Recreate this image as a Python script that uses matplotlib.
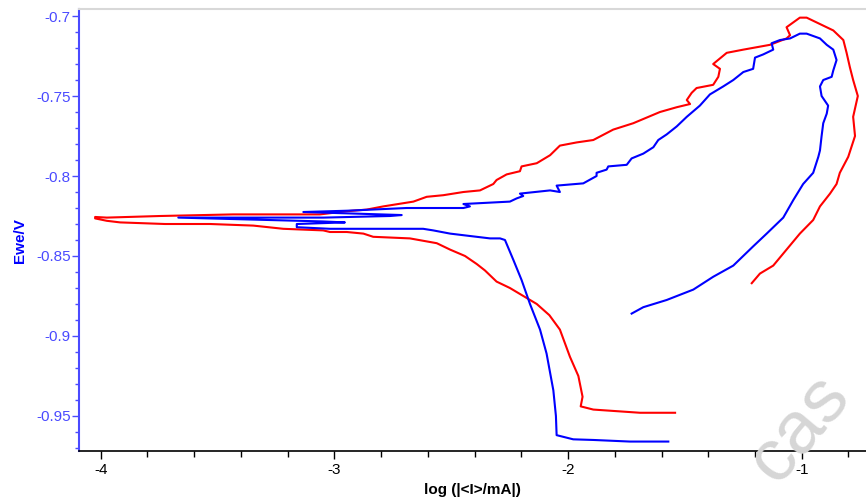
import matplotlib
matplotlib.use('Agg')
import matplotlib.pyplot as plt
from matplotlib.ticker import MultipleLocator, FuncFormatter

plt.rcParams['font.family'] = ['Liberation Sans', 'DejaVu Sans']
plt.rcParams['axes.unicode_minus'] = False

# red curve: log(|I|/mA) and Ewe/V
red_logi = [-1.542, -1.692, -1.792, -1.892, -1.946, -1.938, -1.956, -1.992, -2.035, -2.080,
            -2.134, -2.180, -2.249, -2.306, -2.356, -2.391, -2.441, -2.505, -2.562, -2.677,
            -2.834, -2.876, -2.947, -3.019, -3.048, -3.219, -3.283, -3.347, -3.532, -3.725,
            -3.917, -3.974, -4.024, -4.024, -3.974, -3.746, -3.433, -3.133, -3.062, -2.947,
            -2.862, -2.791, -2.662, -2.605, -2.534, -2.448, -2.377, -2.320, -2.306, -2.263,
            -2.206, -2.199, -2.134, -2.077, -2.035, -1.963, -1.892, -1.807, -1.721, -1.607,
            -1.535, -1.478, -1.492, -1.471, -1.450, -1.379, -1.357, -1.350, -1.379, -1.321,
            -1.250, -1.136, -1.065, -1.050, -1.065, -1.008, -0.979, -0.922, -0.865, -0.822,
            -0.808, -0.794, -0.780, -0.760, -0.780, -0.772, -0.801, -0.837, -0.851, -0.879,
            -0.922, -0.951, -1.008, -1.065, -1.122, -1.179, -1.214]
red_e = [-0.948, -0.948, -0.947, -0.946, -0.944, -0.938, -0.925, -0.913, -0.896, -0.887,
         -0.880, -0.876, -0.870, -0.866, -0.859, -0.855, -0.850, -0.846, -0.842, -0.839,
         -0.838, -0.836, -0.835, -0.835, -0.834, -0.833, -0.832, -0.831, -0.830, -0.830,
         -0.829, -0.828, -0.8265, -0.8256, -0.826, -0.825, -0.824, -0.824, -0.824, -0.822,
         -0.821, -0.819, -0.816, -0.813, -0.812, -0.810, -0.809, -0.805, -0.8025, -0.799,
         -0.797, -0.794, -0.792, -0.787, -0.781, -0.779, -0.7775, -0.771, -0.767, -0.760,
         -0.757, -0.755, -0.7525, -0.748, -0.745, -0.743, -0.738, -0.733, -0.730, -0.723,
         -0.721, -0.718, -0.714, -0.712, -0.707, -0.701, -0.701, -0.705, -0.709, -0.715,
         -0.723, -0.732, -0.740, -0.750, -0.763, -0.775, -0.788, -0.798, -0.805, -0.811,
         -0.819, -0.8275, -0.836, -0.846, -0.856, -0.861, -0.867]

# blue curve
blue_logi = [-1.571, -1.735, -1.892, -1.978, -2.049, -2.052, -2.063, -2.092, -2.120, -2.163,
             -2.199, -2.234, -2.270, -2.291, -2.334, -2.420, -2.505, -2.577, -2.620, -3.019,
             -3.161, -3.161, -2.955, -3.049, -3.668, -3.047, -2.762, -2.712, -3.133, -2.947,
             -2.691, -2.448, -2.420, -2.448, -2.249, -2.220, -2.192, -2.206, -2.077, -2.035,
             -2.049, -1.935, -1.878, -1.878, -1.835, -1.828, -1.749, -1.728, -1.678, -1.635,
             -1.614, -1.578, -1.535, -1.492, -1.436, -1.393, -1.336, -1.293, -1.250, -1.208,
             -1.200, -1.165, -1.122, -1.129, -1.093, -1.050, -1.008, -0.979, -0.922, -0.893,
             -0.865, -0.851, -0.865, -0.872, -0.908, -0.922, -0.915, -0.887, -0.893, -0.908,
             -0.915, -0.922, -0.929, -0.951, -0.994, -1.036, -1.079, -1.150, -1.208, -1.293,
             -1.379, -1.464, -1.578, -1.678, -1.728]
blue_e = [-0.966, -0.966, -0.965, -0.9646, -0.962, -0.950, -0.934, -0.911, -0.896, -0.880,
          -0.865, -0.8525, -0.840, -0.839, -0.839, -0.8375, -0.836, -0.834, -0.833, -0.833,
          -0.832, -0.830, -0.829, -0.8284, -0.826, -0.826, -0.825, -0.8244, -0.8225, -0.8217,
          -0.820, -0.820, -0.819, -0.8175, -0.816, -0.814, -0.8125, -0.811, -0.809, -0.810,
          -0.806, -0.8046, -0.800, -0.798, -0.796, -0.794, -0.793, -0.789, -0.786, -0.782,
          -0.7775, -0.774, -0.769, -0.763, -0.756, -0.749, -0.744, -0.740, -0.735, -0.733,
          -0.726, -0.724, -0.721, -0.717, -0.715, -0.714, -0.711, -0.711, -0.714, -0.718,
          -0.721, -0.7275, -0.734, -0.738, -0.740, -0.744, -0.750, -0.756, -0.761, -0.767,
          -0.775, -0.784, -0.788, -0.798, -0.805, -0.815, -0.826, -0.836, -0.844, -0.856,
          -0.863, -0.871, -0.8775, -0.882, -0.886]

axis_blue = '#4a4aff'

fig = plt.figure(figsize=(8.66, 5.0), dpi=100)
ax = fig.add_axes([79 / 866, 1 - 451 / 500, 1 - 79 / 866, (451 - 9) / 500])

ax.plot(red_logi, red_e, color='#ff0000', lw=1.5)
ax.plot(blue_logi, blue_e, color='#0000ff', lw=1.5)

ax.set_xlim(-4.093, -0.725)
ax.set_ylim(-0.9719, -0.6956)

ax.xaxis.set_major_locator(MultipleLocator(1))
ax.xaxis.set_minor_locator(MultipleLocator(0.2))
ax.yaxis.set_major_locator(MultipleLocator(0.05))
ax.yaxis.set_minor_locator(MultipleLocator(0.01))
fmt = FuncFormatter(lambda v, p: '%g' % round(v, 3))
ax.xaxis.set_major_formatter(fmt)
ax.yaxis.set_major_formatter(fmt)

ax.tick_params(axis='x', which='major', length=6, width=1, colors='black', labelsize=11, pad=3)
ax.tick_params(axis='x', which='minor', length=4, width=1, colors='black')
ax.tick_params(axis='y', which='major', length=5, width=1, colors=axis_blue, labelsize=11, pad=1)
ax.tick_params(axis='y', which='minor', length=3, width=1, colors=axis_blue)

ax.spines['left'].set_color(axis_blue)
ax.spines['left'].set_linewidth(1.5)
ax.spines['bottom'].set_color('black')
ax.spines['bottom'].set_linewidth(1.2)
ax.spines['top'].set_color('#d8d8d8')
ax.spines['top'].set_linewidth(1.5)
ax.spines['right'].set_visible(False)

ax.set_xlabel('log (|<I>/mA|)', fontsize=11, fontweight='bold', color='black', labelpad=4)
ax.set_ylabel('Ewe/V', fontsize=11, fontweight='bold', color='#0000ff')
ax.yaxis.set_label_coords(-0.066, 0.477)

# faint watermark in the lower right corner
fig.text(0.85, 0.01, 'cas', fontsize=54, color='#d6d6d6', rotation=50,
         ha='left', va='bottom', zorder=0)

fig.savefig('out.png', dpi=100)
